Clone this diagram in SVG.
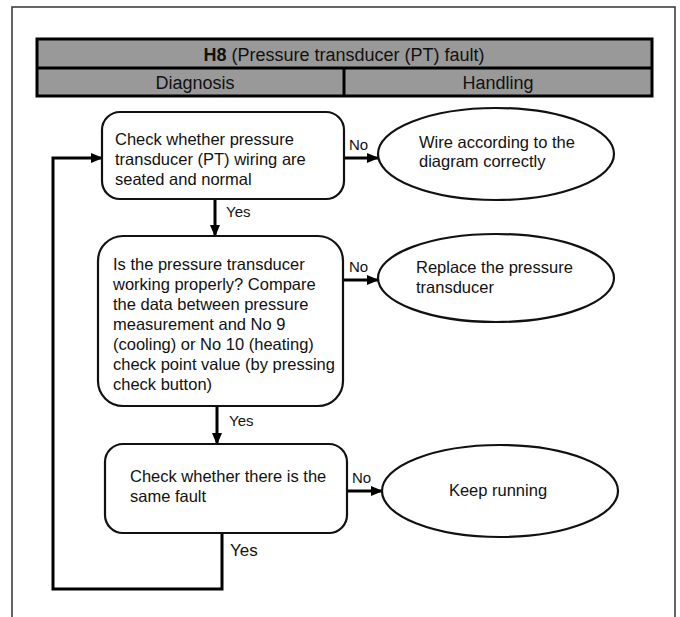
<svg xmlns="http://www.w3.org/2000/svg" width="680" height="617" viewBox="0 0 680 617">
<style>
text{font-family:"Liberation Sans",Arial,sans-serif;fill:#111}
.t{font-size:16.5px}
.h{font-size:18px}
.l{font-size:15px}
.box{fill:#fff;stroke:#111;stroke-width:2.2}
.c{fill:none;stroke:#000;stroke-width:3}
</style>
<defs>
<marker id="ah" markerWidth="12" markerHeight="10" refX="11" refY="5" orient="auto" markerUnits="userSpaceOnUse">
<path d="M0,0 L12,5 L0,10 Z" fill="#000"/>
</marker>
</defs>
<rect width="680" height="617" fill="#fff"/>
<rect x="12" y="7" width="663" height="640" fill="none" stroke="#333" stroke-width="1.5"/>
<g id="header">
<rect x="37" y="39" width="615" height="57" fill="#999" stroke="#000" stroke-width="3"/>
<line x1="37" y1="68" x2="652" y2="68" stroke="#000" stroke-width="3"/>
<line x1="344" y1="68" x2="344" y2="96" stroke="#000" stroke-width="3"/>
<text class="h" x="344" y="61" text-anchor="middle"><tspan font-weight="bold">H8</tspan> (Pressure transducer (PT) fault)</text>
<text class="h" x="195" y="89" text-anchor="middle">Diagnosis</text>
<text class="h" x="498" y="89" text-anchor="middle">Handling</text>
</g>
<g id="connectors">
<line class="c" x1="344" y1="158" x2="378" y2="158" marker-end="url(#ah)"/>
<line class="c" x1="215" y1="199" x2="215" y2="236" marker-end="url(#ah)"/>
<line class="c" x1="343" y1="280" x2="378" y2="280" marker-end="url(#ah)"/>
<line class="c" x1="217" y1="406" x2="217" y2="444" marker-end="url(#ah)"/>
<line class="c" x1="347" y1="491" x2="382" y2="491" marker-end="url(#ah)"/>
<polyline class="c" points="222,533 222,589 53,589 53,158 102,158" marker-end="url(#ah)"/>
<text class="l" x="349" y="150">No</text>
<text class="l" x="226" y="217">Yes</text>
<text class="l" x="349" y="272">No</text>
<text class="l" x="229" y="426">Yes</text>
<text class="l" x="352" y="483">No</text>
<text x="230" y="556" font-size="17px">Yes</text>
</g>
<g id="n1">
<rect class="box" x="102" y="112" width="242" height="87" rx="18"/>
<text class="t" x="115" y="145">Check whether pressure</text>
<text class="t" x="115" y="165">transducer (PT) wiring are</text>
<text class="t" x="115" y="185">seated and normal</text>
</g>
<g id="e1">
<ellipse class="box" cx="496" cy="154" rx="118" ry="46"/>
<text class="t" x="419" y="148">Wire according to the</text>
<text class="t" x="419" y="167">diagram correctly</text>
</g>
<g id="n2">
<rect class="box" x="98" y="236" width="245" height="170" rx="25"/>
<text class="t" x="113" y="270">Is the pressure transducer</text>
<text class="t" x="113" y="290">working properly? Compare</text>
<text class="t" x="113" y="310">the data between pressure</text>
<text class="t" x="113" y="330">measurement and No 9</text>
<text class="t" x="113" y="350">(cooling) or No 10 (heating)</text>
<text class="t" x="113" y="370">check point value (by pressing</text>
<text class="t" x="113" y="390">check button)</text>
</g>
<g id="e2">
<ellipse class="box" cx="496" cy="278" rx="118" ry="44"/>
<text class="t" x="416" y="273">Replace the pressure</text>
<text class="t" x="416" y="293">transducer</text>
</g>
<g id="n3">
<rect class="box" x="105" y="444" width="242" height="89" rx="18"/>
<text class="t" x="130" y="482">Check whether there is the</text>
<text class="t" x="130" y="502">same fault</text>
</g>
<g id="e3">
<ellipse class="box" cx="500" cy="491" rx="118" ry="46"/>
<text class="t" x="498" y="496" text-anchor="middle">Keep running</text>
</g>
</svg>
